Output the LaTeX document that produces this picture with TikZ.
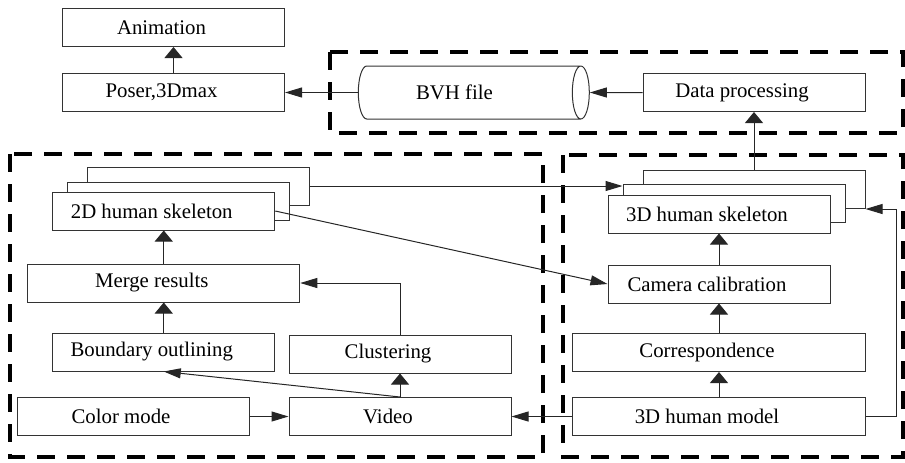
\documentclass[tikz,border=0pt]{standalone}
\usepackage{fontspec}
\setmainfont{Liberation Serif}
\usetikzlibrary{arrows.meta,shapes.geometric}

\tikzset{
	box/.style={draw=black!80, fill=white, line width=0.5pt, minimum width=111pt, minimum height=19pt, font=\fontsize{10.4pt}{12pt}\selectfont, execute at end node={\kern12pt}},
	group/.style={line width=1.6pt, dash pattern=on 9pt off 6pt},
	harr/.style={-{Triangle[length=8.5pt,width=5pt]}, draw=black!85, line width=0.5pt},
	varr/.style={-{Triangle[length=5.5pt,width=9pt]}, draw=black!85, line width=0.5pt},
}

\begin{document}
\begin{tikzpicture}[x=0.5pt, y=-0.5pt]
	\useasboundingbox (0,0) rectangle (905,462);
	%\draw[step=50, black!20] (0,0) grid (905,462);
	\draw[group] (330,52) rectangle (903,133);
	\draw[group] (10,154) rectangle (543,457);
	\draw[group] (563,155) rectangle (903,457);

	% top row
	\node[box] (anim) at (173.5,27.5) {Animation};
	\node[box] (poser) at (173.5,92.5) {Poser,3Dmax};
	\node[box, cylinder, aspect=0.6, minimum width=26.5pt, minimum height=115.5pt] (bvh) at (466.5,92.5) {BVH file};
	\node[box] (data) at (754,92.5) {Data processing};

	% left part
	\node[box] (skel2c) at (198.75,186) {};
	\node[box] (skel2b) at (178.75,201) {};
	\node[box] (skel2a) at (163.75,211) {2D human skeleton};
	\node[box, minimum width=136pt] (merge) at (163.75,283) {Merge results};
	\node[box] (bound) at (163.75,352) {Boundary outlining};
	\node[box] (clust) at (400,354) {Clustering};
	\node[box, minimum width=116pt] (color) at (133,416.5) {Color mode};
	\node[box] (video) at (400,416.5) {Video};

	% right part
	\node[box] (skel3c) at (754,189) {};
	\node[box] (skel3b) at (734,203) {};
	\node[box] (skel3a) at (719,214) {3D human skeleton};
	\node[box] (calib) at (719,284) {Camera calibration};
	\node[box, minimum width=146.5pt] (corr) at (719,352.5) {Correspondence};
	\node[box, minimum width=146.5pt] (model) at (719,416.5) {3D human model};
	\coordinate (fb) at (896,209);

	\draw[varr] (poser) -- (anim);
	\draw[harr] (bvh) -- (poser);
	\draw[harr] (data) -- (bvh);
	\draw[varr] (skel3c) -- (data);
	\draw[harr] (skel2c.east) -- (skel2c.east -| skel3b.west);
	\draw[harr] (skel2a.east) -- (calib.west);
	\draw[varr] (merge) -- (skel2a);
	\draw[varr] (bound) -- (merge);
	\draw[harr] (clust.north) |- (merge.east);
	\draw[varr] (video.north) -- (clust.south);
	\draw[harr] (video.north) -- (bound.south);
	\draw[harr] (color) -- (video);
	\draw[harr] (model) -- (video);
	\draw[varr] (model) -- (corr);
	\draw[varr] (corr) -- (calib);
	\draw[varr] (calib) -- (skel3a);
	\draw[harr] (model.east) -| (fb) -- (fb -| skel3c.east);
\end{tikzpicture}
\end{document}
